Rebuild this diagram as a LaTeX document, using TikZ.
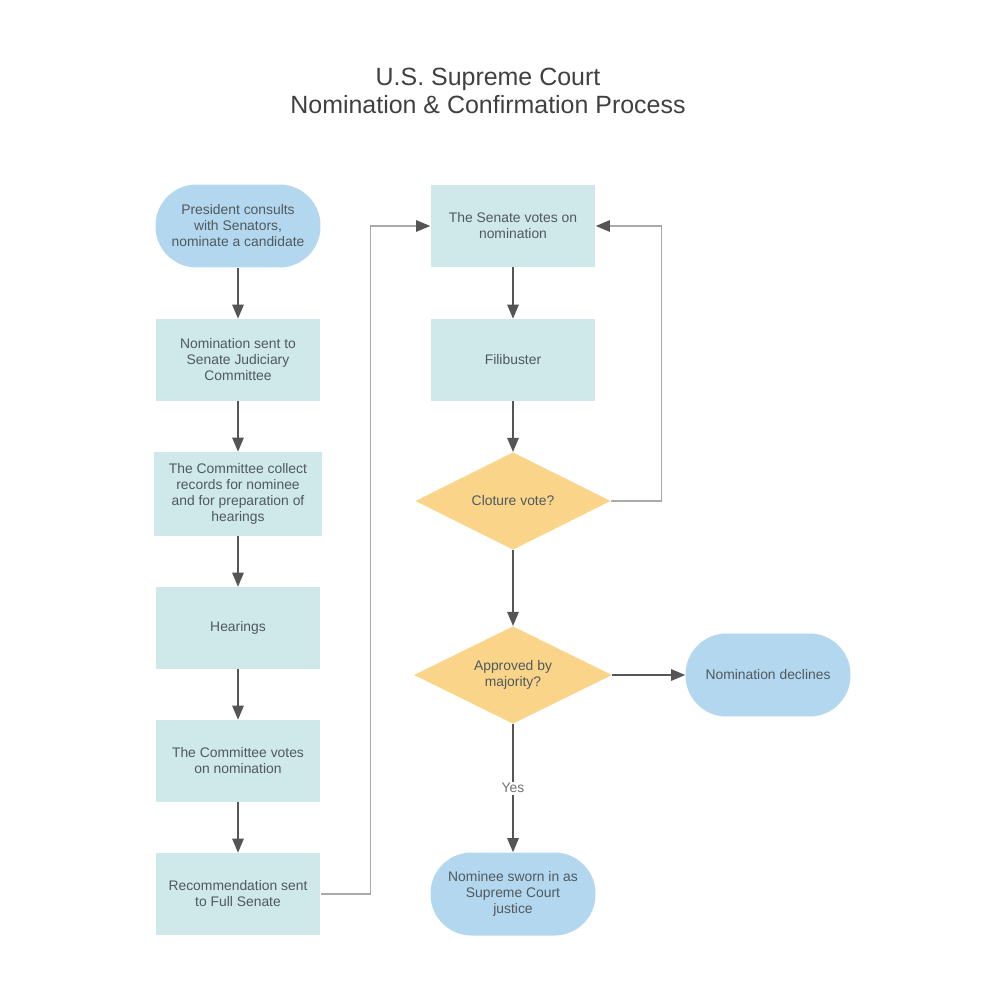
\documentclass[tikz,border=0pt]{standalone}
\usepackage{fontspec}
\setmainfont{Liberation Sans}
\usetikzlibrary{arrows.meta, shapes.geometric}
\definecolor{pillblue}{HTML}{B3D7EF}
\definecolor{stepteal}{HTML}{CFE8E9}
\definecolor{askgold}{HTML}{FAD488}
\definecolor{inkgray}{HTML}{4F5A5E}
\definecolor{arrowgray}{HTML}{555555}
\definecolor{loopgray}{HTML}{AAAAAA}

\tikzset{
  every node/.style={font=\fontsize{7.9}{9.1}\selectfont, text=inkgray, align=center},
  stepbox/.style={fill=stepteal, minimum width=3.3cm, minimum height=1.64cm, inner sep=2pt},
  endpill/.style={fill=pillblue, rounded corners=0.82cm, minimum width=3.3cm, minimum height=1.66cm, inner sep=2pt},
  askbox/.style={diamond, aspect=2, fill=askgold, minimum width=3.9cm, minimum height=1.95cm, inner sep=0pt},
  flow/.style={draw=arrowgray, line width=0.7pt, -{Triangle[length=2.8mm, width=2.3mm]}},
  backflow/.style={draw=loopgray, line width=0.7pt, -{Triangle[length=2.8mm, width=2.3mm, color=arrowgray]}}
}

\begin{document}
\begin{tikzpicture}[x=0.02cm, y=-0.02cm]

% Background
\fill[white] (0,0) rectangle (1000,1000);

% Title
\node[font=\fontsize{14.2}{15.9}\selectfont, text=black!75] (title) at (488,91)
  {U.S. Supreme Court\\Nomination \& Confirmation Process};

% Left column
\node[endpill] (start) at (238,226) {President consults\\with Senators,\\nominate a candidate};
\node[stepbox] (sent) at (238,360) {Nomination sent to\\Senate Judiciary\\Committee};
\node[stepbox, minimum width=3.38cm, minimum height=1.68cm] (collect) at (238,494)
  {The Committee collect\\records for nominee\\and for preparation of\\hearings};
\node[stepbox] (hear) at (238,628) {Hearings};
\node[stepbox] (cvote) at (238,761) {The Committee votes\\on nomination};
\node[stepbox] (recom) at (238,894) {Recommendation sent\\to Full Senate};

% Right column
\node[stepbox] (svote) at (513,226) {The Senate votes on\\nomination};
\node[stepbox] (fili) at (513,360) {Filibuster};
\node[askbox] (cloture) at (513,501) {Cloture vote?};
\node[askbox, minimum width=3.96cm] (approve) at (513,675) {Approved by\\majority?};
\node[endpill] (decline) at (768,675) {Nomination declines};
\node[endpill] (sworn) at (513,894) {Nominee sworn in as\\Supreme Court\\justice};

% Connectors
\draw[flow] (start) -- (sent);
\draw[flow] (sent) -- (collect);
\draw[flow] (collect) -- (hear);
\draw[flow] (hear) -- (cvote);
\draw[flow] (cvote) -- (recom);
\draw[backflow] (recom.east) -- ++(50,0) |- (svote.west);
\draw[flow] (svote) -- (fili);
\draw[flow] (fili) -- (cloture);
\draw[backflow] (cloture.east) -- ++(51,0) |- (svote.east);
\draw[flow] (cloture) -- (approve);
\draw[flow] (approve) -- (decline);
\draw[flow] (approve) -- node[fill=white, inner sep=1pt, text=black!55] (yes) {Yes} (sworn);

\end{tikzpicture}
\end{document}
